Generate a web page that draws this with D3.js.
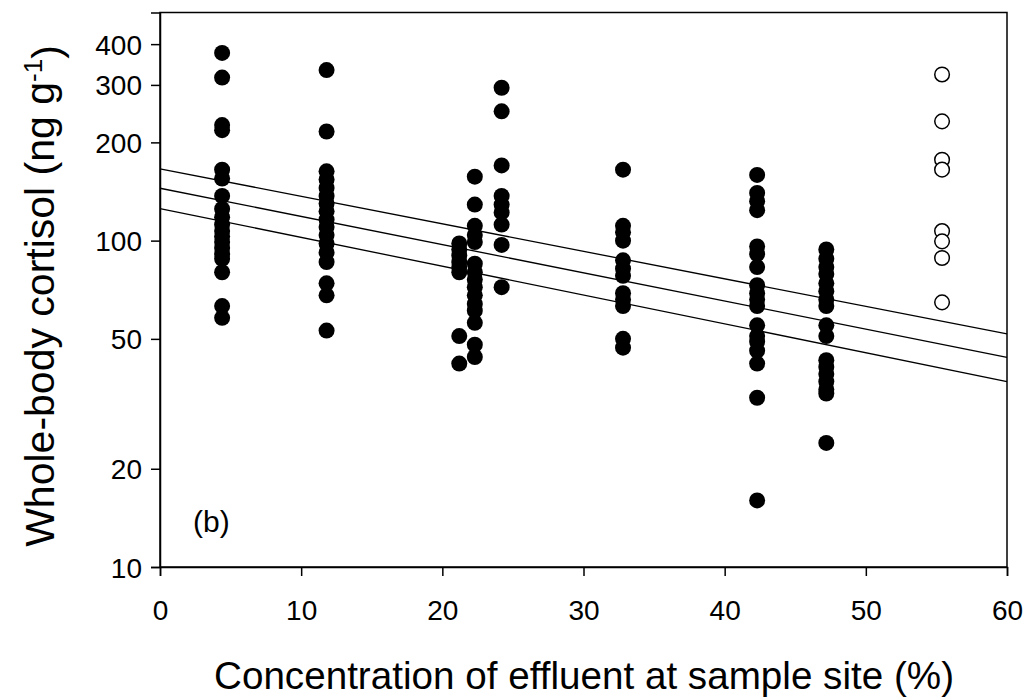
<!DOCTYPE html>
<html>
<head>
<meta charset="utf-8">
<script src="https://cdn.jsdelivr.net/npm/d3@7"></script>
<style>
  html, body { margin: 0; padding: 0; background: #fff; }
  svg { display: block; font-family: "Liberation Sans", Arial, sans-serif; }
</style>
</head>
<body>
<svg id="chart" width="1035" height="700"></svg>
<script>
// ---- Data ----
const siteX = [4.4, 11.8, 21.2, 22.3, 24.2, 32.8, 42.3, 47.2];
const site1 = [376, 316, 226, 218, 165, 155, 137, 125, 118, 112, 107, 103, 99, 95, 91, 88, 80, 63, 58];
const site2 = [333, 216, 163, 154, 145, 137, 130, 123, 116, 110, 104, 98, 92, 86, 74, 68, 53];
const site3 = [98, 94, 90, 86, 83, 80, 51, 42];
const site4 = [157, 129, 111, 104, 99, 85, 80, 76, 72, 68, 64, 61, 56, 48, 44];
const site5 = [294, 249, 170, 137, 129, 122, 112, 97, 72];
const site6 = [165, 111, 106, 100, 87, 82, 78, 69, 66, 63, 50, 47];
const site7 = [159, 140, 132, 124, 96, 91, 83, 73, 69, 66, 63, 55, 51, 49, 46, 42, 33, 16];
const site8 = [94, 88, 83, 79, 74, 70, 66, 63, 55, 51, 43, 41, 39, 37, 35, 34, 24];
const siteValues = [site1, site2, site3, site4, site5, site6, site7, site8];

const referenceX = 55.4;
const referenceValues = [323, 232, 177, 165, 107, 99.5, 88.5, 64.7];

// Regression line (fit) and 95% confidence bounds, at x = 0 and x = 60
const lineX = [0, 60];
const fitY = [144.7, 43.9];
const upperY = [166, 51.8];
const lowerY = [125.4, 37.0];

const xTicks = [0, 10, 20, 30, 40, 50, 60];
const yTicks = [10, 20, 50, 100, 200, 300, 400];

const xTitle = "Concentration of effluent at sample site (%)";
const panelLabel = "(b)";

// ---- Layout ----
const svg = d3.select("#chart");
const plotL = 160, plotR = 1007, plotT = 12.5, plotB = 567;

const x = d3.scaleLinear().domain([0, 60]).range([plotL, plotR]);
const y = d3.scaleLog().domain([10, 500]).range([plotB, plotT]);

// frame (top & right)
svg.append("rect")
  .attr("x", plotL).attr("y", plotT)
  .attr("width", plotR - plotL).attr("height", plotB - plotT)
  .attr("fill", "none").attr("stroke", "#000").attr("stroke-width", 1.5);

// axes
const xAxis = d3.axisBottom(x).tickValues(xTicks).tickFormat(d3.format("d")).tickSize(9).tickPadding(24);
const gx = svg.append("g").attr("transform", `translate(0,${plotB})`).call(xAxis);
const yAxis = d3.axisLeft(y).tickValues(yTicks).tickFormat(d3.format("d")).tickSize(9).tickPadding(9);
const gy = svg.append("g").attr("transform", `translate(${plotL},0)`).call(yAxis);

[gx, gy].forEach(g => {
  g.select(".domain").attr("stroke", "#000").attr("stroke-width", 1.5);
  g.selectAll(".tick line").attr("stroke", "#000").attr("stroke-width", 1.5);
  g.selectAll(".tick text").attr("fill", "#000")
    .style("font-family", '"Liberation Sans", Arial, sans-serif')
    .style("font-size", "28px");
});
gy.selectAll(".tick text").attr("dy", "0.36em");

// regression lines
const lineGen = d3.line().x(d => x(d[0])).y(d => y(d[1]));
[fitY, upperY, lowerY].forEach(vals => {
  svg.append("path")
    .datum(lineX.map((xv, i) => [xv, vals[i]]))
    .attr("d", lineGen)
    .attr("fill", "none").attr("stroke", "#000").attr("stroke-width", 1.3);
});

// filled points
const pts = [];
siteX.forEach((sx, i) => siteValues[i].forEach(v => pts.push([sx, v])));
svg.append("g").selectAll("circle").data(pts).join("circle")
  .attr("cx", d => x(d[0])).attr("cy", d => y(d[1])).attr("r", 8)
  .attr("fill", "#000");

// open points
svg.append("g").selectAll("circle").data(referenceValues).join("circle")
  .attr("cx", x(referenceX)).attr("cy", d => y(d)).attr("r", 7.3)
  .attr("fill", "#fff").attr("stroke", "#000").attr("stroke-width", 1.5);

// panel label
svg.append("text").attr("x", 193).attr("y", 532)
  .style("font-size", "30px").text(panelLabel);

// x title
svg.append("text").attr("x", 584).attr("y", 689)
  .attr("text-anchor", "middle").style("font-size", "39px")
  .attr("textLength", 740).attr("lengthAdjust", "spacingAndGlyphs")
  .text(xTitle);

// y title with superscript
const yt = svg.append("text")
  .attr("transform", `translate(54,296) rotate(-90)`)
  .attr("text-anchor", "middle").style("font-size", "41px");
yt.append("tspan").text("Whole-body cortisol (ng g");
yt.append("tspan").attr("dy", "-0.45em").style("font-size", "26px").text("-1");
yt.append("tspan").attr("dy", "0.45em").text(")");
</script>
</body>
</html>
